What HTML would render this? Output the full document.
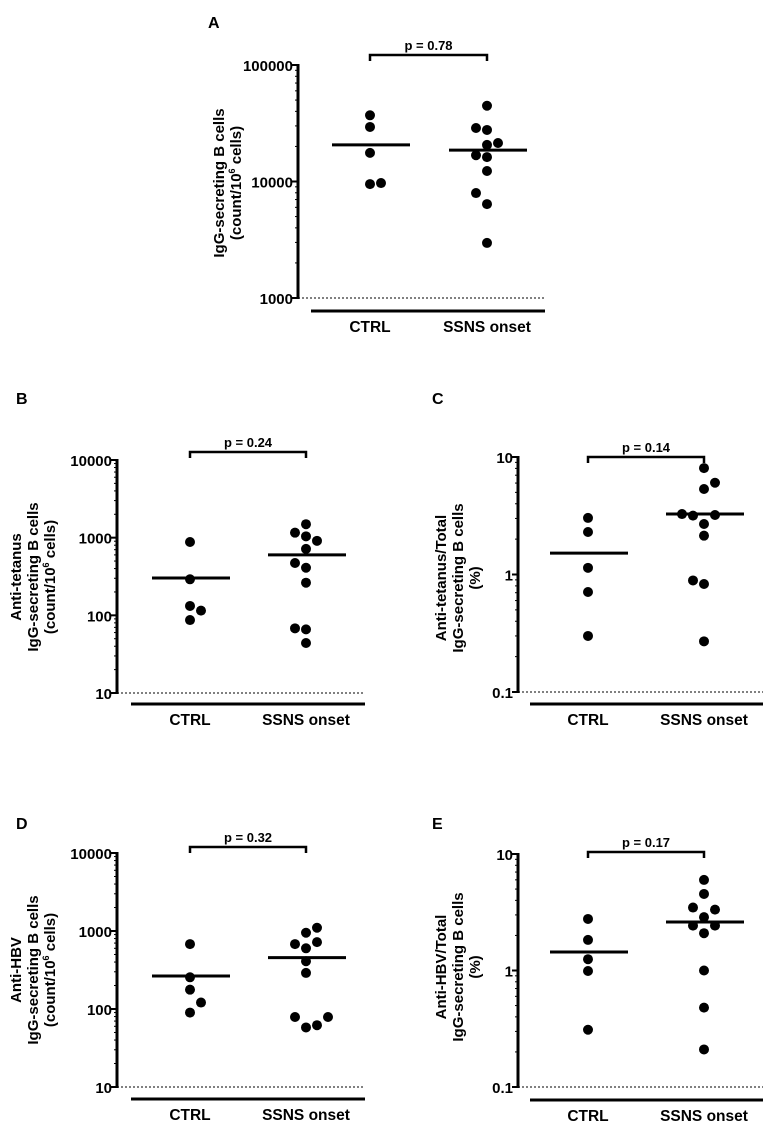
<!DOCTYPE html>
<html><head><meta charset="utf-8"><style>
html,body{margin:0;padding:0;background:#fff;}
svg{display:block;font-family:"Liberation Sans",Arial,sans-serif;font-weight:bold;}
</style></head><body>
<svg id="fig" width="767" height="1123" viewBox="0 0 767 1123"></svg>
<script>
// ---- data ----
const categories = ["CTRL","SSNS onset"];
const aCtrl = [37000,29400,17600,9500,9700];
const aSsns = [44700,28800,27700,20600,21400,16800,16200,12300,7960,6400,2970];
const aMedians = [20600,18600];
const bCtrl = [880,291,132,115,87];
const bSsns = [1490,1160,1040,910,716,472,410,263,68,66,44];
const bMedians = [302,600];
const cCtrl = [3.03,2.30,1.14,0.71,0.30];
const cSsns = [8.05,6.04,5.34,3.27,3.17,3.21,2.69,2.14,0.89,0.83,0.27];
const cMedians = [1.52,3.27];
const dCtrl = [680,255,177,121,90];
const dSsns = [1100,950,680,720,600,410,290,79,79,58,62];
const dMedians = [265,455];
const eCtrl = [2.77,1.83,1.25,0.99,0.31];
const eSsns = [5.99,4.54,3.47,3.33,2.87,2.43,2.43,2.09,1.0,0.48,0.21];
const eMedians = [1.44,2.61];
const pValues = ["p = 0.78","p = 0.24","p = 0.14","p = 0.32","p = 0.17"];
// jitter column index per point (-2..2)
const aCtrlJit=[0,0,0,0,1], aSsnsJit=[0,-1,0,0,1,-1,0,0,-1,0,0];
const bCtrlJit=[0,0,0,1,0], bSsnsJit=[0,-1,0,1,0,-1,0,0,-1,0,0];
const cCtrlJit=[0,0,0,0,0], cSsnsJit=[0,1,0,-2,-1,1,0,0,-1,0,0];
const dCtrlJit=[0,0,0,1,0], dSsnsJit=[1,0,-1,1,0,0,0,-1,2,0,1];
const eCtrlJit=[0,0,0,0,0], eSsnsJit=[0,0,-1,1,0,-1,1,0,0,0,0];

const NS="http://www.w3.org/2000/svg";
const svg=document.getElementById('fig');
function el(tag,attrs,parent,text){const e=document.createElementNS(NS,tag);for(const k in attrs)e.setAttribute(k,attrs[k]);if(text!==undefined)e.textContent=text;(parent||svg).appendChild(e);return e;}

function panel(o){
  const g=el('g',{});
  
  
  const nDec=o.maxExp-o.minExp;
  const dec=(o.yBot-o.yTop)/nDec;
  const y=v=>o.yBot-(Math.log10(v)-o.minExp)*dec;
  const xs=[o.xCtrl,o.xSsns];
  const L=el('text',{x:o.lx,y:o.ly,'font-size':16},g,o.letter);
  
  
  const dl=el('line',{x1:o.ax,x2:o.barR,y1:o.yBot,y2:o.yBot,stroke:'#000','stroke-width':1,'stroke-dasharray':'2,2'},g);
  
  
  const ax=el('line',{x1:o.ax,x2:o.ax,y1:o.yTop-1,y2:o.yBot+1,stroke:'#000','stroke-width':3},g);
  
  
  for(let e=o.minExp;e<=o.maxExp;e++){
    const yy=y(Math.pow(10,e));
    el('line',{x1:o.ax-6,x2:o.ax,y1:yy,y2:yy,stroke:'#000','stroke-width':2},g);
    const t=el('text',{x:o.ax-5,y:yy+6,'font-size':15,'text-anchor':'end'},g,o.tickLabels[e-o.minExp]);
    
    
    if(e<o.maxExp)for(let m=2;m<=9;m++){const ym=y(m*Math.pow(10,e));el('line',{x1:o.ax-3,x2:o.ax,y1:ym,y2:ym,stroke:'#000','stroke-width':1},g);}
  }
  const tt=el('text',{transform:`translate(${o.tx},${o.ty}) rotate(-90)`,'font-size':15,'text-anchor':'middle'},g);
  
  
  o.title.forEach((ln,i)=>{const ts=el('tspan',{x:0,dy:i?17:0},tt);
    if(ln.indexOf('^6')>=0){const p=ln.split('^6');ts.appendChild(document.createTextNode(p[0]));el('tspan',{'font-size':9,dy:-6},ts,'6');el('tspan',{dy:6},ts,p[1]);}else ts.textContent=ln;});
  const bb=el('line',{x1:o.barL,x2:o.barR,y1:o.barY,y2:o.barY,stroke:'#000','stroke-width':3},g);
  
  
  categories.forEach((c,i)=>{const t=el('text',{x:xs[i],y:o.barY+21,'font-size':15.5,'text-anchor':'middle'},g,c);
    
    });
  const br=el('path',{d:`M${xs[0]},${o.brY+6}V${o.brY}H${xs[1]}V${o.brY+6}`,fill:'none',stroke:'#000','stroke-width':2.5},g);
  
  
  const pt=el('text',{x:(xs[0]+xs[1])/2,y:o.brY-5,'font-size':13,'text-anchor':'middle'},g,o.p);
  
  
  [[o.ctrl,o.ctrlJ],[o.ssns,o.ssnsJ]].forEach((s,gi)=>{s[0].forEach((v,i)=>{
    const c=el('circle',{cx:xs[gi]+s[1][i]*11,cy:y(v),r:5,fill:'#000'},g);
    
    
  });});
  o.med.forEach((m,i)=>{const ml=el('line',{x1:xs[i]-38,x2:xs[i]+40,y1:y(m),y2:y(m),stroke:'#000','stroke-width':3},g);
    
    });
}

panel({letter:'A',lx:208,ly:28,ax:298,yTop:65,yBot:298,minExp:3,maxExp:5,tickLabels:['1000','10000','100000'],
  tx:224,ty:183,title:['IgG-secreting B cells','(count/10^6 cells)'],barL:311,barR:545,barY:311,xCtrl:370,xSsns:487,brY:55,
  p:pValues[0],ctrl:aCtrl,ctrlJ:aCtrlJit,ssns:aSsns,ssnsJ:aSsnsJit,med:aMedians});
panel({letter:'B',lx:16,ly:404,ax:117,yTop:460,yBot:693,minExp:1,maxExp:4,tickLabels:['10','100','1000','10000'],
  tx:21,ty:577,title:['Anti-tetanus','IgG-secreting B cells','(count/10^6 cells)'],barL:131,barR:365,barY:704,xCtrl:190,xSsns:306,brY:452,
  p:pValues[1],ctrl:bCtrl,ctrlJ:bCtrlJit,ssns:bSsns,ssnsJ:bSsnsJit,med:bMedians});
panel({letter:'C',lx:432,ly:404,ax:518,yTop:457,yBot:692,minExp:-1,maxExp:1,tickLabels:['0.1','1','10'],
  tx:446,ty:578,title:['Anti-tetanus/Total','IgG-secreting B cells','(%)'],barL:530,barR:763,barY:704,xCtrl:588,xSsns:704,brY:457,
  p:pValues[2],ctrl:cCtrl,ctrlJ:cCtrlJit,ssns:cSsns,ssnsJ:cSsnsJit,med:cMedians});
panel({letter:'D',lx:16,ly:829,ax:117,yTop:853,yBot:1087,minExp:1,maxExp:4,tickLabels:['10','100','1000','10000'],
  tx:21,ty:970,title:['Anti-HBV','IgG-secreting B cells','(count/10^6 cells)'],barL:131,barR:365,barY:1099,xCtrl:190,xSsns:306,brY:847,
  p:pValues[3],ctrl:dCtrl,ctrlJ:dCtrlJit,ssns:dSsns,ssnsJ:dSsnsJit,med:dMedians});
panel({letter:'E',lx:432,ly:829,ax:518,yTop:854,yBot:1087,minExp:-1,maxExp:1,tickLabels:['0.1','1','10'],
  tx:446,ty:967,title:['Anti-HBV/Total','IgG-secreting B cells','(%)'],barL:530,barR:763,barY:1100,xCtrl:588,xSsns:704,brY:852,
  p:pValues[4],ctrl:eCtrl,ctrlJ:eCtrlJit,ssns:eSsns,ssnsJ:eSsnsJit,med:eMedians});
</script>
</body></html>
